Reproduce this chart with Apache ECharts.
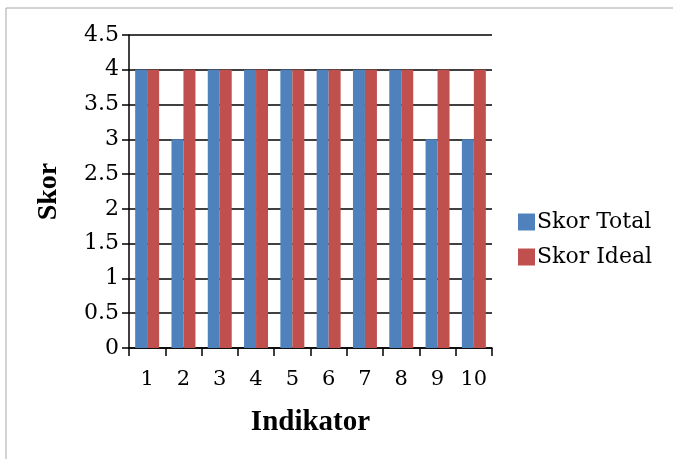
<!DOCTYPE html>
<html>
<head>
<meta charset="utf-8">
<script src="https://cdn.jsdelivr.net/npm/echarts@6/dist/echarts.min.js"></script>
<style>html,body{margin:0;padding:0;background:#fff}#c{width:673px;height:459px}</style>
</head>
<body>
<div id="c"></div>
<script>
const categories = ['1','2','3','4','5','6','7','8','9','10'];
const skorTotal = [4,3,4,4,4,4,4,4,3,3];
const skorIdeal = [4,4,4,4,4,4,4,4,4,4];
const seriesNames = ['Skor Total','Skor Ideal'];

const chart = echarts.init(document.getElementById('c'), null, {renderer:'canvas'});
chart.setOption({
  animation:false,
  backgroundColor:'#fff',
  graphic:[{type:'rect',shape:{x:6,y:8,width:700,height:500},style:{fill:'none',stroke:'#a6a6a6',lineWidth:1}, silent:true}],
  grid:{left:129,right:181,top:35,bottom:111},
  legend:{
    orient:'vertical', left:518, top:211, padding:0, itemWidth:17, itemHeight:17, itemGap:13,
    icon:'rect',
    textStyle:{fontFamily:'DejaVu Serif', fontSize:22, color:'#000', padding:[0,0,0,-3]},
    data:seriesNames
  },
  xAxis:{
    type:'category', data:categories,
    name:'Indikator', nameLocation:'middle', nameGap:60,
    nameTextStyle:{fontFamily:'Liberation Serif', fontWeight:'bold', fontSize:29, color:'#000'},
    axisLine:{lineStyle:{color:'#000', width:1.5}},
    axisTick:{show:true, interval:0, length:8, lineStyle:{color:'#000', width:1.5}},
    axisLabel:{interval:0, hideOverlap:false, fontFamily:'DejaVu Serif', fontSize:21, color:'#000', margin:21}
  },
  yAxis:{
    type:'value', min:0, max:4.5, interval:0.5,
    name:'Skor', nameLocation:'middle', nameGap:66,
    nameTextStyle:{fontFamily:'Liberation Serif', fontWeight:'bold', fontSize:28, color:'#000'},
    axisLine:{show:true, lineStyle:{color:'#000', width:1.5}},
    axisTick:{show:true, length:7, lineStyle:{color:'#000', width:1.5}},
    splitLine:{lineStyle:{color:'#000', width:1.5}},
    axisLabel:{fontFamily:'DejaVu Serif', fontSize:22, color:'#000', margin:10}
  },
  series:[
    {name:seriesNames[0], type:'bar', data:skorTotal, barGap:'0%', barCategoryGap:'34%', itemStyle:{color:'#4F81BD'}},
    {name:seriesNames[1], type:'bar', data:skorIdeal, barGap:'0%', barCategoryGap:'34%', itemStyle:{color:'#C0504D'}}
  ]
});
</script>
</body>
</html>
